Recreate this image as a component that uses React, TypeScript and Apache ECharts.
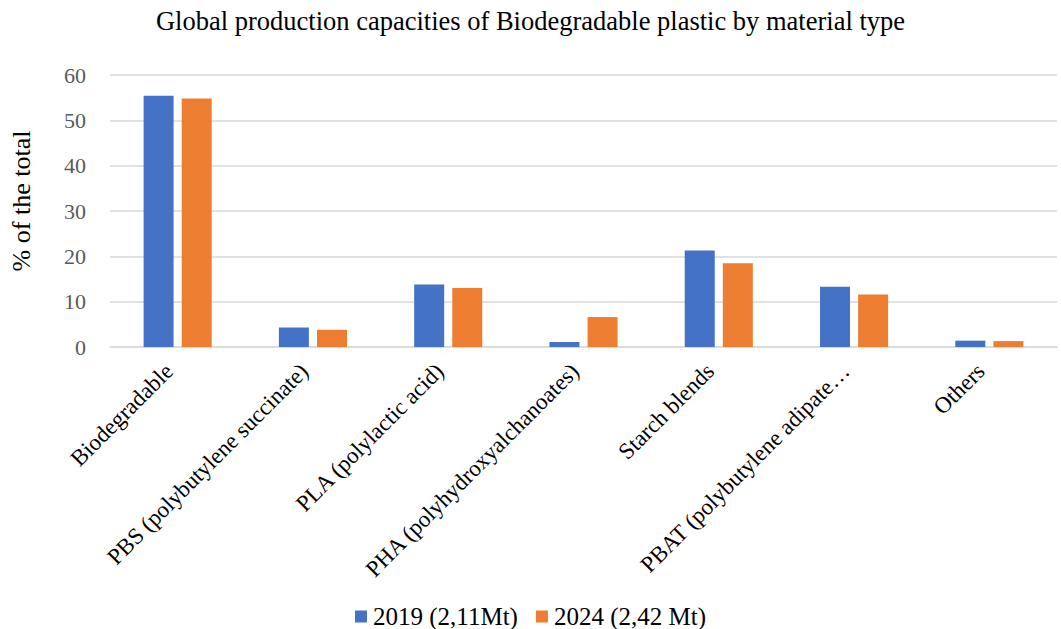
import React, { useEffect, useRef } from "react";
import * as echarts from "echarts";

const categories = [
  "Biodegradable",
  "PBS (polybutylene succinate)",
  "PLA (polylactic acid)",
  "PHA (polyhydroxyalchanoates)",
  "Starch blends",
  "PBAT (polybutylene adipate…",
  "Others",
];
const values2019 = [55.4, 4.3, 13.8, 1.1, 21.3, 13.3, 1.4];
const values2024 = [54.8, 3.8, 13.0, 6.6, 18.5, 11.6, 1.3];
const seriesNames = ["2019 (2,11Mt)", "2024 (2,42 Mt)"];
const yTicks = { min: 0, max: 60, interval: 10 };

const FONT = '"Liberation Serif", "Times New Roman", serif';

export default function App() {
  const ref = useRef<HTMLDivElement>(null);

  useEffect(() => {
    document.body.style.margin = "0";
    if (!ref.current) return;
    const chart = echarts.init(ref.current, null, { renderer: "svg" });
    chart.setOption({
      animation: false,
      textStyle: { fontFamily: FONT },
      title: {
        text: "Global production capacities of Biodegradable plastic by material type",
        left: "center",
        top: 2,
        textStyle: { fontFamily: FONT, fontSize: 26.5, fontWeight: "normal", color: "#000" },
      },
      legend: {
        top: 599,
        left: "center",
        itemWidth: 12,
        itemHeight: 12,
        itemGap: 18,
        icon: "rect",
        textStyle: { fontFamily: FONT, fontSize: 25, color: "#000", padding: [0, 0, 0, 1] },
        data: seriesNames,
      },
      grid: { left: 103, right: 4, top: 75, bottom: 282, containLabel: false },
      xAxis: {
        type: "category",
        data: categories,
        axisTick: { show: false },
        axisLine: { lineStyle: { color: "#d9d9d9", width: 1.5 } },
        axisLabel: {
          rotate: 45,
          interval: 0,
          margin: 12,
          padding: [0, 12, 0, 0],
          fontFamily: FONT,
          fontSize: 23,
          color: "#000",
        },
      },
      yAxis: {
        type: "value",
        min: yTicks.min,
        max: yTicks.max,
        interval: yTicks.interval,
        name: "% of the total",
        nameLocation: "middle",
        nameGap: 76,
        nameRotate: 90,
        nameTextStyle: { fontFamily: FONT, fontSize: 26, color: "#000", padding: [0, 0, 0, 20] },
        axisLine: { show: false },
        axisTick: { show: false },
        axisLabel: { fontFamily: FONT, fontSize: 22, color: "#595959", margin: 24 },
        splitLine: { lineStyle: { color: "#d9d9d9", width: 1.5 } },
      },
      series: [
        {
          name: seriesNames[0],
          type: "bar",
          data: values2019,
          barWidth: 30,
          barGap: "27%",
          itemStyle: { color: "#4472c4" },
        },
        {
          name: seriesNames[1],
          type: "bar",
          data: values2024,
          barWidth: 30,
          itemStyle: { color: "#ed7d31" },
        },
      ],
    });
    return () => chart.dispose();
  }, []);

  return <div ref={ref} style={{ width: 1061, height: 629 }} />;
}
